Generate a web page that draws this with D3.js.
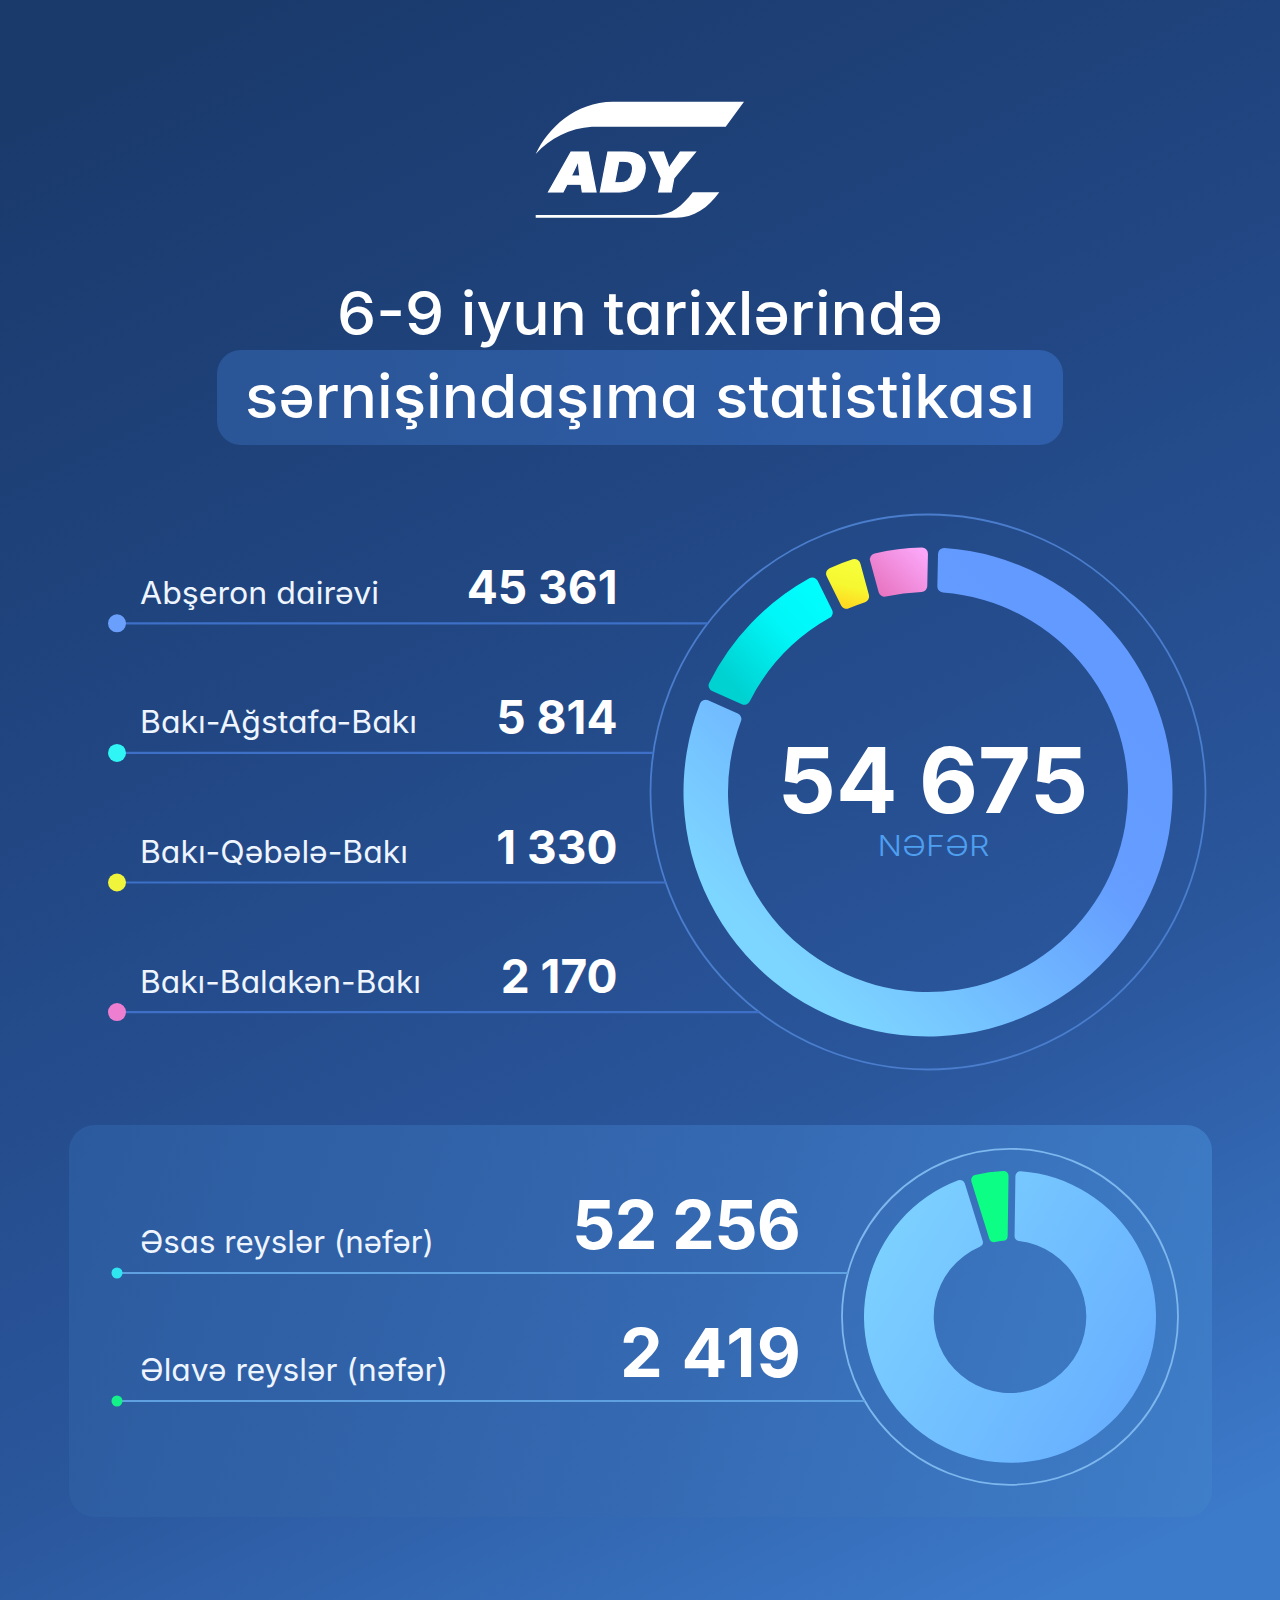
<!DOCTYPE html>
<html>
<head>
<meta charset="utf-8">
<script src="https://cdn.jsdelivr.net/npm/d3@7"></script>
<style>
html,body{margin:0;padding:0;background:#24498a;}
svg{display:block;}
text{font-family:Inter,"Noto Sans",sans-serif;font-feature-settings:"cv11" 1;}
</style>
</head>
<body>
<svg id="chart" width="1280" height="1600"></svg>
<script>
const titleLines = ["6-9 iyun tarixlərində", "sərnişindaşıma statistikası"];
const brand = "ADY";
const routeNames = ["Abşeron dairəvi", "Bakı-Ağstafa-Bakı", "Bakı-Qəbələ-Bakı", "Bakı-Balakən-Bakı"];
const routeValues = [45361, 5814, 1330, 2170];
const tripNames = ["Əsas reyslər (nəfər)", "Əlavə reyslər (nəfər)"];
const tripValues = [52256, 2419];
const unitLabel = "NƏFƏR";
const routeDotColors = ["#6a9ffb", "#2ff5f5", "#f0f53c", "#ee7fd0"];
const tripDotColors = ["#2fe6f0", "#14f08a"];
const routeLabelWidths = [239, 277, 268, 281];
const tripLabelWidths = [294, 308];
const tripValueWidths = [229, 181];

const fmt = d3.formatLocale({decimal: ".", thousands: " ", grouping: [3], currency: ["", ""]}).format(",d");
const rad = d => d * Math.PI / 180;
const svg = d3.select("#chart");
const defs = svg.append("defs");

function grad(id, x1, y1, x2, y2, stops, shift) {
  const g = defs.append("linearGradient").attr("id", id).attr("gradientUnits", "userSpaceOnUse")
    .attr("x1", x1).attr("y1", y1).attr("x2", x2).attr("y2", y2);
  if (shift) g.attr("gradientTransform", `translate(${-shift.x},${-shift.y})`);
  stops.forEach(s => g.append("stop").attr("offset", s[0]).attr("stop-color", s[1]));
}
const C1 = {x: 928, y: 792, ring: 277.5, R: 244.5, r: 200, pad: 2.6, start: 1.2, rowY: 623.3, rowStep: 129.6};
const C2 = {x: 1010, y: 1316.8, ring: 168, R: 146, r: 76.3, pad: 2.4, start: 0.8, rowY: [1273, 1401]};

grad("bg", 250, 0, 1050, 1600, [[0, "#1a3a6c"], [0.35, "#214682"], [0.7, "#2a569c"], [1, "#3c7aca"]]);
grad("panel", 69, 1125, 1212, 1517, [[0, "#2c5a9e"], [0.5, "#3468b0"], [1, "#3f7ec9"]]);
grad("pill", 217, 350, 1063, 445, [[0, "#2a5596"], [1, "#2f5fab"]]);
grad("gBlue", 1090, 670, 790, 970, [[0, "#629aff"], [0.32, "#659eff"], [1, "#7dd6ff"]], C1);
grad("gCyan", 830, 590, 730, 680, [[0, "#00ffff"], [0.45, "#00f6f8"], [1, "#00d2d2"]], C1);
grad("gYellow", 860, 560, 850, 605, [[0, "#f6ff3c"], [0.6, "#f6f830"], [1, "#ffdc22"]], C1);
grad("gPink", 925, 555, 880, 600, [[0, "#fba6f8"], [1, "#e671bd"]], C1);
grad("gSoft", 870, 1230, 1150, 1400, [[0, "#7dd2ff"], [1, "#67aeff"]], C2);
const routeFills = ["url(#gBlue)", "url(#gCyan)", "url(#gYellow)", "url(#gPink)"];
const tripFills = ["url(#gSoft)", "#0cff84"];

svg.append("rect").attr("width", 1280).attr("height", 1600).attr("fill", "url(#bg)");

// Logo
const logo = svg.append("g").attr("fill", "#fff");
logo.append("path").attr("d", "M535.7 154 C548 128 575 102 613 101.7 L744 101.7 L725.7 126.7 L592 126.7 C570 128 550 138 535.7 154 Z");
logo.append("path").attr("d", "M535.7 215 L656 215 C672 215 682 206 692.7 192.3 L719.3 192.3 C708 208 694 217.7 676 217.7 L535.7 217.7 Z");
logo.append("text").text(brand).attr("x", 550).attr("y", 191.5).attr("font-size", 55).attr("font-weight", 900)
  .attr("font-style", "italic").attr("stroke", "#fff").attr("stroke-width", 1)
  .attr("textLength", 142).attr("lengthAdjust", "spacingAndGlyphs");

// Title
svg.append("rect").attr("x", 217).attr("y", 350).attr("width", 846).attr("height", 95).attr("rx", 24).attr("fill", "url(#pill)");
const titleSpec = [{y: 335, len: 606}, {y: 418, len: 790}];
svg.selectAll("text.title").data(titleLines).join("text").attr("class", "title")
  .text(d => d).attr("x", 640).attr("y", (d, i) => titleSpec[i].y)
  .attr("text-anchor", "middle").attr("font-size", 60).attr("font-weight", 550).attr("fill", "#fff")
  .attr("textLength", (d, i) => titleSpec[i].len).attr("lengthAdjust", "spacingAndGlyphs");

// Main donut
const pie1 = d3.pie().sort(null).padAngle(rad(C1.pad)).startAngle(rad(C1.start)).endAngle(rad(C1.start + 360));
const arc1 = d3.arc().innerRadius(C1.r).outerRadius(C1.R).cornerRadius(6).padRadius((C1.R + C1.r) / 2);
svg.append("circle").attr("cx", C1.x).attr("cy", C1.y).attr("r", C1.ring).attr("fill", "none")
  .attr("stroke", "#4a7dcc").attr("stroke-width", 1.8);
svg.append("g").attr("transform", `translate(${C1.x},${C1.y})`).selectAll("path").data(pie1(routeValues)).join("path")
  .attr("d", arc1).attr("fill", (d, i) => routeFills[i]);

const rowY1 = i => C1.rowY + i * C1.rowStep;
const rows = svg.append("g").selectAll("g").data(routeNames).join("g");
rows.append("line").attr("x1", 117).attr("y1", (d, i) => rowY1(i)).attr("y2", (d, i) => rowY1(i))
  .attr("x2", (d, i) => C1.x - Math.sqrt(C1.ring ** 2 - (rowY1(i) - C1.y) ** 2))
  .attr("stroke", "#3d70c6").attr("stroke-width", 2.2);
rows.append("circle").attr("cx", 117).attr("cy", (d, i) => rowY1(i)).attr("r", 9).attr("fill", (d, i) => routeDotColors[i]);
rows.append("text").text(d => d).attr("x", 140).attr("y", (d, i) => rowY1(i) - 19.5)
  .attr("font-size", 31).attr("font-weight", 400).attr("fill", "#eef5ff")
  .attr("textLength", (d, i) => routeLabelWidths[i]).attr("lengthAdjust", "spacingAndGlyphs");
rows.append("text").text((d, i) => fmt(routeValues[i])).attr("x", 617.5).attr("y", (d, i) => rowY1(i) - 19)
  .attr("text-anchor", "end").attr("font-size", 46).attr("font-weight", 700).attr("fill", "#fff");

svg.append("text").text(fmt(d3.sum(routeValues))).attr("x", 933).attr("y", 813).attr("text-anchor", "middle")
  .attr("font-size", 91).attr("font-weight", 700).attr("fill", "#fff");
svg.append("text").text(unitLabel).attr("x", 933.5).attr("y", 856).attr("text-anchor", "middle")
  .attr("font-size", 29).attr("font-weight", 300).attr("fill", "#4f9ff0")
  .attr("textLength", 112).attr("lengthAdjust", "spacingAndGlyphs");

// Panel
svg.append("rect").attr("x", 69).attr("y", 1125).attr("width", 1143).attr("height", 392).attr("rx", 26).attr("fill", "url(#panel)");

// Second donut
const pie2 = d3.pie().sort(null).padAngle(rad(C2.pad)).startAngle(rad(C2.start)).endAngle(rad(C2.start + 360));
const arc2 = d3.arc().innerRadius(C2.r).outerRadius(C2.R).cornerRadius(5);
svg.append("circle").attr("cx", C2.x).attr("cy", C2.y).attr("r", C2.ring).attr("fill", "none")
  .attr("stroke", "#7db7ee").attr("stroke-width", 1.8);
svg.append("g").attr("transform", `translate(${C2.x},${C2.y})`).selectAll("path").data(pie2(tripValues)).join("path")
  .attr("d", arc2).attr("fill", (d, i) => tripFills[i]);

const rows2 = svg.append("g").selectAll("g").data(tripNames).join("g");
rows2.append("line").attr("x1", 117).attr("y1", (d, i) => C2.rowY[i]).attr("y2", (d, i) => C2.rowY[i])
  .attr("x2", (d, i) => C2.x - Math.sqrt(C2.ring ** 2 - (C2.rowY[i] - C2.y) ** 2))
  .attr("stroke", "#5fa0e0").attr("stroke-width", 2);
rows2.append("circle").attr("cx", 117).attr("cy", (d, i) => C2.rowY[i]).attr("r", 5.5).attr("fill", (d, i) => tripDotColors[i]);
rows2.append("text").text(d => d).attr("x", 140).attr("y", (d, i) => C2.rowY[i] - 20)
  .attr("font-size", 31).attr("font-weight", 400).attr("fill", "#eef5ff")
  .attr("textLength", (d, i) => tripLabelWidths[i]).attr("lengthAdjust", "spacingAndGlyphs");
rows2.append("text").text((d, i) => fmt(tripValues[i])).attr("x", 801).attr("y", (d, i) => C2.rowY[i] - 24)
  .attr("text-anchor", "end").attr("font-size", 68).attr("font-weight", 700).attr("fill", "#fff")
  .attr("textLength", (d, i) => tripValueWidths[i]).attr("lengthAdjust", "spacing");
</script>
</body>
</html>
